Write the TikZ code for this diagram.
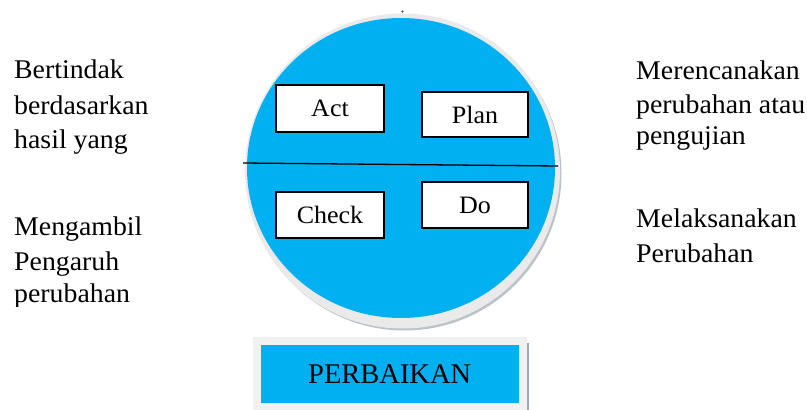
\documentclass[tikz,border=0pt]{standalone}
\usepackage{fontspec}
\setmainfont{Liberation Serif}
\newfontfamily\widefont[FakeStretch=1.03]{Liberation Serif}
\newfontfamily\boxfont[FakeStretch=1.04]{Liberation Serif}
\definecolor{pdcablue}{RGB}{0,176,240}
\definecolor{rimgray}{RGB}{234,234,234}
\definecolor{shadegray}{RGB}{160,168,180}
\definecolor{framegray}{RGB}{241,241,241}
\tikzset{
  sidetext/.style={anchor=base west, inner sep=0pt, font=\widefont\fontsize{27}{32}\selectfont},
  stagebox/.style={draw=black, line width=1.3pt, fill=white, inner sep=0pt,
    font=\boxfont\fontsize{25}{30}\selectfont},
}
\begin{document}
\begin{tikzpicture}[x=1pt,y=-1pt]
\useasboundingbox (0,0) rectangle (807,410);
\fill[white] (0,0) rectangle (807,410);

% small mark above the wheel
\fill[black!80] (402.5,11.5) circle (1.1);

% the PDCA wheel: shadow, light rim, blue disc
\fill[shadegray!70] (404.5,173.5) circle (157);
\fill[rimgray] (402.5,171) circle (157.5);
\fill[pdcablue] (401,168) ellipse [x radius=154, y radius=150];

% dividing line across the wheel
\coordinate (divL) at (243,163);
\coordinate (divR) at (558,166);
\draw[line width=1.3pt] (divL) -- (divR);

% the four stages
\node[stagebox, minimum width=108, minimum height=47] (act)   at (330,108.5) {Act};
\node[stagebox, minimum width=106, minimum height=45] (plan)  at (475,114.5) {Plan};
\node[stagebox, minimum width=108, minimum height=46] (check) at (330,215)   {Check};
\node[stagebox, minimum width=106, minimum height=46] (do)    at (475,205)   {Do};

% left descriptions
\node[sidetext] (a1) at (14,78)  {Bertindak};
\node[sidetext] (a2) at (14,114) {berdasarkan};
\node[sidetext] (a3) at (14,148) {hasil yang};
\node[sidetext] (c1) at (14,235) {Mengambil};
\node[sidetext] (c2) at (14,270) {Pengaruh};
\begin{scope}
  \clip (0,280) rectangle (240,306);
  \node[sidetext] (c3) at (14,302) {perubahan};
\end{scope}

% right descriptions
\node[sidetext] (p1) at (636,79)  {Merencanakan};
\node[sidetext] (p2) at (636,113) {perubahan atau};
\node[sidetext] (p3) at (636,144) {pengujian};
\node[sidetext] (d1) at (636,227) {Melaksanakan};
\node[sidetext] (d2) at (636,262) {Perubahan};

% bottom title panel
\fill[framegray] (252.7,336.7) rectangle (526.7,410);
\fill[shadegray] (526.7,342.7) rectangle (529.3,410);
\node[fill=pdcablue, inner sep=0pt, minimum width=258, minimum height=57.7,
  font=\fontsize{28.5}{34}\selectfont] (title) at (389.7,373.85) {PERBAIKAN};
\end{tikzpicture}
\end{document}
